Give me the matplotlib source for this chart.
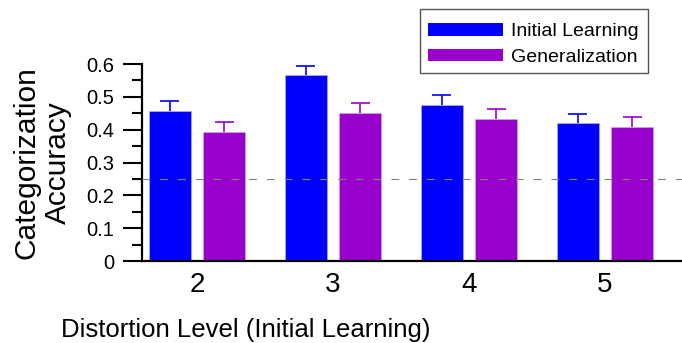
import numpy as np
import matplotlib.pyplot as plt
from matplotlib import font_manager
from matplotlib.patches import Patch, Rectangle

plt.rcParams['font.family'] = ['Liberation Sans', 'DejaVu Sans']

# ─── Datos ────────────────────────────────────────────────────────────────────

levels = [2, 3, 4, 5]
initial_acc = [0.458, 0.566, 0.476, 0.419]
initial_err = [0.030, 0.029, 0.029, 0.030]
general_acc = [0.393, 0.452, 0.433, 0.408]
general_err = [0.029, 0.029, 0.030, 0.030]
chance = 0.25
series_names = ["Initial Learning", "Generalization"]

BLUE = "#0000ff"
PURPLE = "#9900cc"

# fuente estrecha para el título del eje x, si está instalada
installed = {f.name for f in font_manager.fontManager.ttflist}
if "Liberation Sans Narrow" in installed:
    xlabel_font, xlabel_size = "Liberation Sans Narrow", 22
else:
    xlabel_font, xlabel_size = "Liberation Sans", 18.5

# ─── Figura ───────────────────────────────────────────────────────────────────

fig = plt.figure(figsize=(6.82, 3.43), dpi=100)
ax = fig.add_axes([0.2085, 0.239, 0.7915, 0.5743])

x = np.array(levels, dtype=float)
offset, width, cap = 0.2, 0.307, 0.07

for xs, vals, errs, color in [(x - offset, initial_acc, initial_err, BLUE),
                              (x + offset, general_acc, general_err, PURPLE)]:
    ax.bar(xs, vals, width, color=color, edgecolor="#c8b0f0", linewidth=0.4, zorder=2)
    tops = np.array(vals) + np.array(errs)
    ax.vlines(xs, vals, tops, color=color, lw=1.2, zorder=3)
    ax.hlines(tops, xs - cap, xs + cap, color=color, lw=1.2, zorder=3)

ax.axhline(chance, color="#808080", lw=0.8, dashes=(7, 9), zorder=4)

ax.set_xlim(1.598, 5.566)
ax.set_ylim(0, 0.6)
ax.set_xticks(levels)
ax.set_xticklabels([str(v) for v in levels], fontsize=20)
ax.tick_params(axis="x", length=0, pad=8)
ax.set_yticks(np.arange(0, 0.61, 0.1))
ax.set_yticklabels(["0", "0.1", "0.2", "0.3", "0.4", "0.5", "0.6"], fontsize=14.5)
ax.set_yticks(np.arange(0.05, 0.6, 0.1), minor=True)
ax.tick_params(axis="y", which="major", length=14, width=1.5, pad=6)
ax.tick_params(axis="y", which="minor", length=7.5, width=1.5)

for side in ["top", "right"]:
    ax.spines[side].set_visible(False)
for side in ["left", "bottom"]:
    ax.spines[side].set_linewidth(1.6)

fig.text(0.0616, 0.526, "Categorization\nAccuracy", rotation=90, ha="center",
         va="center", fontsize=21.5, linespacing=1.15, multialignment="center")
fig.text(246 / 682, 0.018, "Distortion Level (Initial Learning)", ha="center",
         va="baseline", fontsize=xlabel_size, family=[xlabel_font, "DejaVu Sans"])

# leyenda sin marco, con un rectángulo gris alrededor
handles = [Patch(facecolor=BLUE), Patch(facecolor=PURPLE)]
leg = fig.legend(handles, series_names, loc="center left",
                 bbox_to_anchor=(427.5 / 682, 1 - 44.5 / 343), fontsize=14,
                 handlelength=3.9, handleheight=0.6, handletextpad=0.4,
                 labelspacing=0.42, borderpad=0, borderaxespad=0,
                 frameon=False)
fig.patches.append(Rectangle((420 / 682, 1 - 72.7 / 343), 228 / 682, 63.4 / 343,
                             transform=fig.transFigure, facecolor="none",
                             edgecolor="#555555", linewidth=1.0))

fig.savefig("out.png", dpi=100)
